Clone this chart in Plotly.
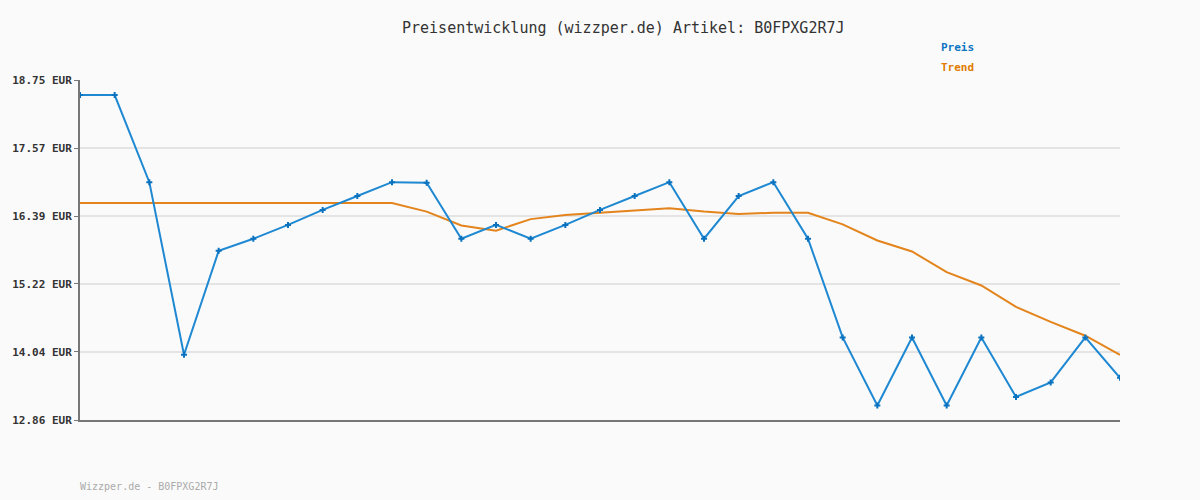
import plotly.graph_objects as go

x_idx = list(range(31))
preis = [18.49, 18.49, 16.98, 13.99, 15.79, 16.00, 16.24, 16.50, 16.74, 16.98,
         16.97, 16.00, 16.24, 16.00, 16.24, 16.50, 16.74, 16.98, 16.00, 16.74,
         16.98, 16.00, 14.29, 13.11, 14.29, 13.11, 14.29, 13.26, 13.51, 14.29, 13.59]
trend = [16.62, 16.62, 16.62, 16.62, 16.62, 16.62, 16.62, 16.62, 16.62, 16.62,
         16.47, 16.23, 16.14, 16.34, 16.41, 16.45, 16.48, 16.53, 16.47, 16.43,
         16.45, 16.45, 16.25, 15.97, 15.78, 15.42, 15.19, 14.82, 14.56, 14.32, 13.99]
y_ticks = [12.86, 14.04, 15.22, 16.39, 17.57, 18.75]
y_tick_labels = ["12.86 EUR", "14.04 EUR", "15.22 EUR", "16.39 EUR", "17.57 EUR", "18.75 EUR"]

mono = "DejaVu Sans Mono"
blue = "#1e88d2"
orange = "#e3841c"

fig = go.Figure()
fig.add_trace(go.Scatter(x=x_idx, y=trend, mode="lines", name="Trend",
                         line=dict(color=orange, width=2), hoverinfo="skip"))
fig.add_trace(go.Scatter(x=x_idx, y=preis, mode="lines+markers", name="Preis",
                         line=dict(color=blue, width=2),
                         marker=dict(symbol="cross", size=5, color="#0b72bf")))

fig.update_layout(
    width=1200, height=500, autosize=False,
    margin=dict(l=80, r=80, t=80, b=80),
    paper_bgcolor="#fafafa", plot_bgcolor="#fafafa",
    showlegend=False,
    xaxis=dict(range=[0, 30], showgrid=False, zeroline=False, showticklabels=False,
               showline=True, linecolor="#777777", linewidth=2, ticks=""),
    yaxis=dict(range=[12.86, 18.75], tickvals=y_ticks, ticktext=y_tick_labels,
               showgrid=True, gridcolor="#e4e4e4", gridwidth=2, zeroline=False,
               showline=True, linecolor="#777777", linewidth=2,
               ticks="outside", ticklen=4, tickcolor="#777777",
               tickfont=dict(family=mono, size=11, color="#333333", weight="bold")),
    annotations=[
        dict(text="Preisentwicklung (wizzper.de) Artikel: B0FPXG2R7J", xref="paper", yref="paper",
             x=0.523, y=1.153, xanchor="center", yanchor="middle", showarrow=False,
             font=dict(family=mono, size=15, color="#333333")),
        dict(text="Preis", xref="paper", yref="paper", x=0.826, y=1.097,
             xanchor="left", yanchor="middle", showarrow=False,
             font=dict(family=mono, size=11, color="#0a75c2", weight="bold")),
        dict(text="Trend", xref="paper", yref="paper", x=0.826, y=1.038,
             xanchor="left", yanchor="middle", showarrow=False,
             font=dict(family=mono, size=11, color="#e07b00", weight="bold")),
        dict(text="Wizzper.de - B0FPXG2R7J", xref="paper", yref="paper", x=-0.002, y=-0.197,
             xanchor="left", yanchor="middle", showarrow=False,
             font=dict(family=mono, size=10, color="#aaaaaa")),
    ],
)

fig.write_html("out.html", config={"displayModeBar": False},
               post_script="document.body.style.margin='0';document.body.style.background='#fafafa';")
